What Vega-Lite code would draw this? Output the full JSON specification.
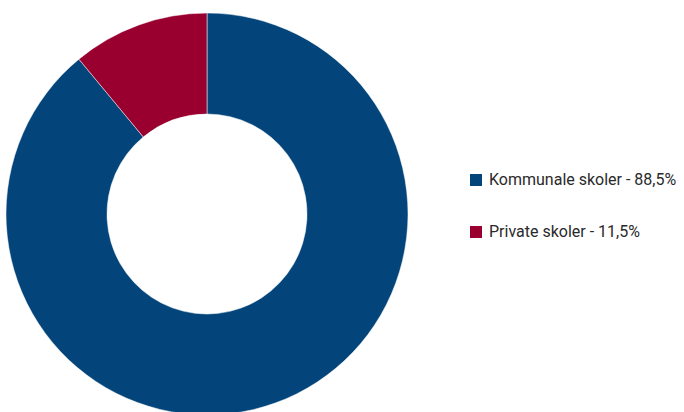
{
  "$schema": "https://vega.github.io/schema/vega-lite/v6.json",
  "width": 414,
  "height": 412,
  "padding": {"left": 0, "top": 8, "right": 0, "bottom": 0},
  "autosize": {"type": "pad"},
  "background": "white",
  "view": {"stroke": null},
  "data": {
    "values": [
      {"kategori": "Kommunale skoler - 88,5%", "andel": 89, "orden": 1},
      {"kategori": "Private skoler - 11,5%", "andel": 11, "orden": 2}
    ]
  },
  "mark": {"type": "arc", "outerRadius": 201, "innerRadius": 100, "stroke": "white", "strokeWidth": 0.5},
  "encoding": {
    "theta": {"field": "andel", "type": "quantitative", "stack": true},
    "order": {"field": "orden", "type": "quantitative"},
    "color": {
      "field": "kategori",
      "type": "nominal",
      "sort": ["Kommunale skoler - 88,5%", "Private skoler - 11,5%"],
      "scale": {"domain": ["Kommunale skoler - 88,5%", "Private skoler - 11,5%"], "range": ["#03457A", "#990030"]},
      "legend": {
        "title": null,
        "orient": "none",
        "legendX": 468,
        "legendY": 164,
        "symbolType": "square",
        "symbolSize": 144,
        "symbolStrokeWidth": 0,
        "labelFont": "Roboto",
        "labelFontSize": 16,
        "labelColor": "#2a2a2a",
        "labelOffset": 5,
        "rowPadding": 36,
        "labelLimit": 300
      }
    }
  }
}
